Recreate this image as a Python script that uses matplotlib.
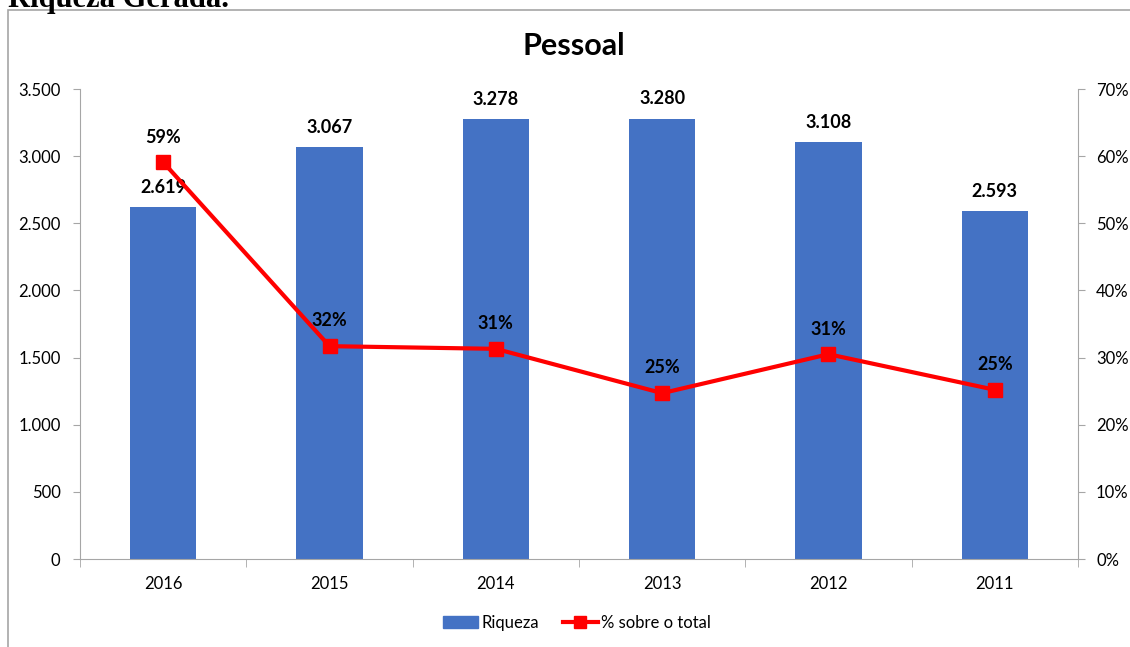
import matplotlib.pyplot as plt
import matplotlib.patches as mpatches
from matplotlib.ticker import FuncFormatter, FixedLocator
import numpy as np

plt.rcParams['font.family'] = ['Lato', 'DejaVu Sans']

# data
anos = ['2016', '2015', '2014', '2013', '2012', '2011']
riqueza = [2619, 3067, 3278, 3280, 3108, 2593]
pct_total = [59.1, 31.7, 31.3, 24.7, 30.5, 25.2]
pct_labels = ['59%', '32%', '31%', '25%', '31%', '25%']

bar_color = '#4472C4'
line_color = '#FF0000'
axis_gray = '#A6A6A6'

fig = plt.figure(figsize=(11.3, 6.47), dpi=100)

# outer frame of the chart object (runs off the right and bottom edge)
fig.patches.append(mpatches.Rectangle((8 / 1130, -0.1), 1.2, 1 - 10 / 647 + 0.1,
                                      transform=fig.transFigure, fill=False,
                                      edgecolor=axis_gray, linewidth=1.2))
# heading of the document, cut at the top
fig.text(8 / 1130, 1 - 7 / 647, 'Riqueza Gerada.', family='Liberation Serif',
         fontweight='bold', fontsize=22, va='baseline', ha='left')

ax = fig.add_axes([80 / 1130, 1 - 559 / 647, 998 / 1130, 470 / 647])
ax2 = ax.twinx()

x = np.arange(len(anos))
ax.bar(x, riqueza, width=0.4, color=bar_color, zorder=2)
ax.set_xlim(-0.5, len(anos) - 0.5)
ax.set_ylim(0, 3500)
ax.set_yticks(np.arange(0, 3501, 500))
ax.yaxis.set_major_formatter(FuncFormatter(lambda v, p: f'{int(v):,}'.replace(',', '.')))

ax.set_xticks(x)
ax.set_xticklabels(anos)
ax.xaxis.set_minor_locator(FixedLocator(np.arange(-0.5, len(anos), 1.0)))
ax.tick_params(axis='x', which='major', length=0, pad=12, labelsize=12)
ax.tick_params(axis='x', which='minor', length=6, color=axis_gray)
ax.tick_params(axis='y', length=5, color=axis_gray, labelsize=12, pad=9)

for xi, v in zip(x, riqueza):
    ax.annotate(f'{v:,}'.replace(',', '.'), (xi, v), xytext=(0, 8),
                textcoords='offset points', ha='center', va='bottom',
                fontsize=13, fontweight='bold')

ax2.plot(x, pct_total, color=line_color, linewidth=3, marker='s',
         markersize=10, zorder=3)
ax2.set_ylim(0, 70)
ax2.set_yticks(np.arange(0, 71, 10))
ax2.yaxis.set_major_formatter(FuncFormatter(lambda v, p: f'{int(v)}%'))
ax2.tick_params(axis='y', length=5, color=axis_gray, labelsize=12, pad=8)

for xi, v, lab in zip(x, pct_total, pct_labels):
    ax2.annotate(lab, (xi, v), xytext=(0, 12), textcoords='offset points',
                 ha='center', va='bottom', fontsize=13, fontweight='bold')

for a in (ax, ax2):
    a.spines['top'].set_visible(False)
    for s in ('left', 'right', 'bottom'):
        a.spines[s].set_color(axis_gray)
ax.spines['right'].set_visible(False)
ax2.spines['left'].set_visible(False)
ax2.spines['bottom'].set_visible(False)

fig.text(574 / 1130, 1 - 46 / 647, 'Pessoal', ha='center', va='center',
         fontsize=22, fontweight='bold')

handles = [mpatches.Patch(color=bar_color, label='Riqueza'),
           plt.Line2D([], [], color=line_color, linewidth=3, marker='s',
                      markersize=9, label='% sobre o total')]
fig.legend(handles=handles, loc='center', bbox_to_anchor=(577 / 1130, 1 - 623 / 647),
           ncol=2, frameon=False, fontsize=12, handlelength=2.1,
           handletextpad=0.2, columnspacing=1.4)

fig.savefig('out.png', dpi=100)
